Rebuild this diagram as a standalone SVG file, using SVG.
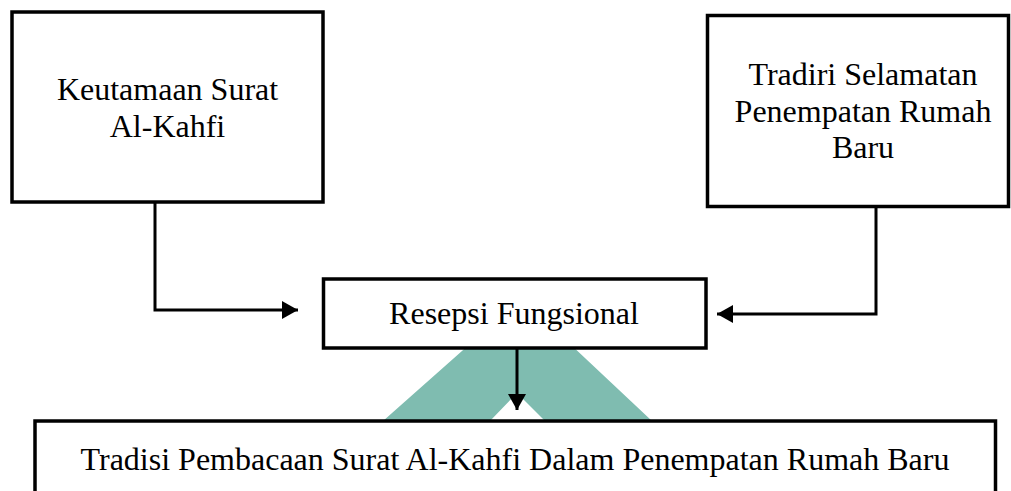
<svg xmlns="http://www.w3.org/2000/svg" width="1011" height="491" viewBox="0 0 1011 491">
<style>
.box{fill:#fff;stroke:#000;stroke-width:3.5}
.lbl{font-family:"Liberation Serif","Times New Roman",serif;font-size:32px;fill:#000;text-anchor:middle}
.conn{fill:none;stroke:#000;stroke-width:3}
</style>
<defs>
<marker id="ah" markerUnits="userSpaceOnUse" markerWidth="17" markerHeight="18" refX="16" refY="9" orient="auto">
<path d="M0,0 L16,9 L0,18 Z" fill="#000"/>
</marker>
</defs>
<rect width="1011" height="491" fill="#fff"/>
<polygon points="383,421 471,343 569,343 652,421 545,421 517,393 490,421" fill="#7fbcb0"/>
<g id="connectors">
<polyline class="conn" points="155,203 155,310 298,310" marker-end="url(#ah)"/>
<polyline class="conn" points="876,208 876,314 717,314" marker-end="url(#ah)"/>
<line class="conn" x1="517" y1="349" x2="517" y2="410" marker-end="url(#ah)"/>
</g>
<g id="node-keutamaan">
<rect class="box" x="12" y="12" width="311" height="190"/>
<text class="lbl" x="167.5" y="100">Keutamaan Surat</text>
<text class="lbl" x="167.5" y="137">Al-Kahfi</text>
</g>
<g id="node-tradiri">
<rect class="box" x="707.5" y="15.5" width="301" height="191"/>
<text class="lbl" x="863" y="85">Tradiri Selamatan</text>
<text class="lbl" x="863" y="122">Penempatan Rumah</text>
<text class="lbl" x="863" y="158">Baru</text>
</g>
<g id="node-resepsi">
<rect class="box" x="323.5" y="279" width="382.5" height="69"/>
<text class="lbl" x="514" y="324">Resepsi Fungsional</text>
</g>
<g id="node-tradisi">
<rect class="box" x="35" y="421" width="960.5" height="80"/>
<text class="lbl" x="515" y="470">Tradisi Pembacaan Surat Al-Kahfi Dalam Penempatan Rumah Baru</text>
</g>
</svg>
